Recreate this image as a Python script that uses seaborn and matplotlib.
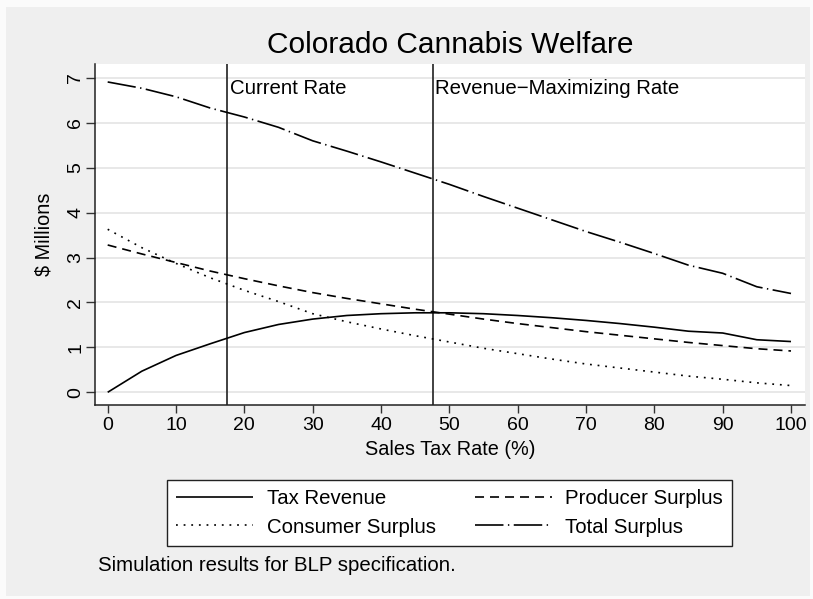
import numpy as np
import pandas as pd
import matplotlib
matplotlib.use("Agg")
import matplotlib.pyplot as plt
from matplotlib.patches import Rectangle
import seaborn as sns

# Steuersatz in %
tax_rate = [0, 5, 10, 15, 20, 25, 30, 35, 40, 45, 50,
            55, 60, 65, 70, 75, 80, 85, 90, 95, 100]

# Werte in Mio. $
tax_revenue = [0.00, 0.47, 0.82, 1.08, 1.33, 1.51, 1.63, 1.71, 1.75, 1.77, 1.77,
               1.75, 1.71, 1.66, 1.60, 1.53, 1.45, 1.36, 1.32, 1.17, 1.13]
producer_surplus = [3.28, 3.08, 2.89, 2.70, 2.53, 2.37, 2.22, 2.09, 1.97, 1.85, 1.74,
                    1.63, 1.53, 1.44, 1.35, 1.27, 1.19, 1.11, 1.04, 0.97, 0.92]
consumer_surplus = [3.63, 3.22, 2.87, 2.55, 2.27, 2.02, 1.75, 1.57, 1.41, 1.26, 1.12,
                    0.98, 0.86, 0.74, 0.63, 0.54, 0.45, 0.36, 0.29, 0.21, 0.15]
total_surplus = [6.91, 6.77, 6.58, 6.33, 6.13, 5.90, 5.60, 5.37, 5.13, 4.88, 4.63,
                 4.36, 4.10, 3.84, 3.58, 3.34, 3.09, 2.83, 2.65, 2.35, 2.20]

current_rate = 17.4
revmax_rate = 47.6

x_ticks = list(range(0, 101, 10))
y_ticks = list(range(0, 8))

sns.set_theme(style="white")
plt.rcParams['font.family'] = ['Liberation Sans', 'DejaVu Sans']
plt.rcParams['lines.scale_dashes'] = False
plt.rcParams['text.color'] = 'black'
plt.rcParams['xtick.color'] = 'black'
plt.rcParams['ytick.color'] = 'black'
plt.rcParams['axes.labelcolor'] = 'black'

W, H = 813, 599
fig = plt.figure(figsize=(W / 100, H / 100), dpi=100)
fig.patch.set_facecolor('#fbfbfb')
# innerer grauer Bereich (Stata graphregion)
fig.patches.append(Rectangle((6 / W, 1 - 596 / H), (810 - 6) / W, (596 - 7) / H,
                             transform=fig.transFigure, facecolor='#efefef',
                             edgecolor='none', zorder=-10))

ax = fig.add_axes([94.7 / W, 1 - 405 / H, (805 - 94.7) / W, (405 - 64) / H])
ax.set_facecolor('white')

df = pd.DataFrame({
    'rate': tax_rate,
    'Tax Revenue': tax_revenue,
    'Consumer Surplus': consumer_surplus,
    'Producer Surplus': producer_surplus,
    'Total Surplus': total_surplus,
})

styles = {
    'Tax Revenue': (0, ()),
    'Consumer Surplus': (0, (1.3, 4.2)),
    'Producer Surplus': (0, (6.5, 4.3)),
    'Total Surplus': (0, (20.5, 3.2, 1.0, 3.2)),
}

for name, ls in styles.items():
    sns.lineplot(data=df, x='rate', y=name, ax=ax, color='black', lw=1.2,
                 linestyle=ls, label=name, zorder=3)

ax.axvline(current_rate, color='#333333', lw=1.3, zorder=2)
ax.axvline(revmax_rate, color='#333333', lw=1.3, zorder=2)
ax.text(current_rate + 0.45, 6.77, 'Current Rate', fontsize=14.7, va='center', ha='left')
ax.text(revmax_rate + 0.35, 6.77, 'Revenue\u2212Maximizing Rate', fontsize=14.7,
        va='center', ha='left')

ax.set_xlim(-1.9, 102.05)
ax.set_ylim(-0.283, 7.31)
ax.set_xticks(x_ticks)
ax.set_yticks(y_ticks)
ax.grid(axis='y', color='#e6e6e6', lw=1.3, zorder=1)
ax.grid(axis='x', visible=False)

for s in ['top', 'right']:
    ax.spines[s].set_visible(False)
for s in ['left', 'bottom']:
    ax.spines[s].set_color('#222222')
    ax.spines[s].set_linewidth(1.1)

ax.tick_params(axis='x', direction='out', length=6, width=1.0, color='#333333',
               pad=2.5, labelsize=14, bottom=True)
ax.tick_params(axis='y', direction='out', length=6.5, width=1.0, color='#333333',
               pad=1.0, labelsize=14, left=True)
for lab in ax.get_yticklabels():
    lab.set_rotation(90)
    lab.set_va('center')

ax.set_xlabel('Sales Tax Rate (%)', fontsize=14.3)
ax.set_ylabel('$ Millions', fontsize=14.3)
ax.xaxis.set_label_coords(0.5, (405 - 440.3) / 341)
ax.yaxis.set_label_coords((53 - 94.7) / 710.3, 0.5)

fig.text(450 / W, 1 - 53.3 / H, 'Colorado Cannabis Welfare', fontsize=21.5,
         ha='center', va='baseline')

handles, labels = ax.get_legend_handles_labels()
order = ['Tax Revenue', 'Consumer Surplus', 'Producer Surplus', 'Total Surplus']
hmap = dict(zip(labels, handles))
leg = ax.legend([hmap[k] for k in order], order, ncol=2,
                loc='center', bbox_to_anchor=(449.5 / W, 1 - 513 / H),
                bbox_transform=fig.transFigure, fontsize=14.7, frameon=True,
                fancybox=False, framealpha=1, edgecolor='#222222',
                handlelength=3.8, handletextpad=0.65, columnspacing=1.9,
                labelspacing=0.45, borderpad=0.45)
leg.get_frame().set_linewidth(1.0)

fig.text(98.3 / W, 1 - 571 / H, 'Simulation results for BLP specification.',
         fontsize=14.7, ha='left', va='baseline')

fig.savefig('out.png', dpi=100, facecolor=fig.get_facecolor())
